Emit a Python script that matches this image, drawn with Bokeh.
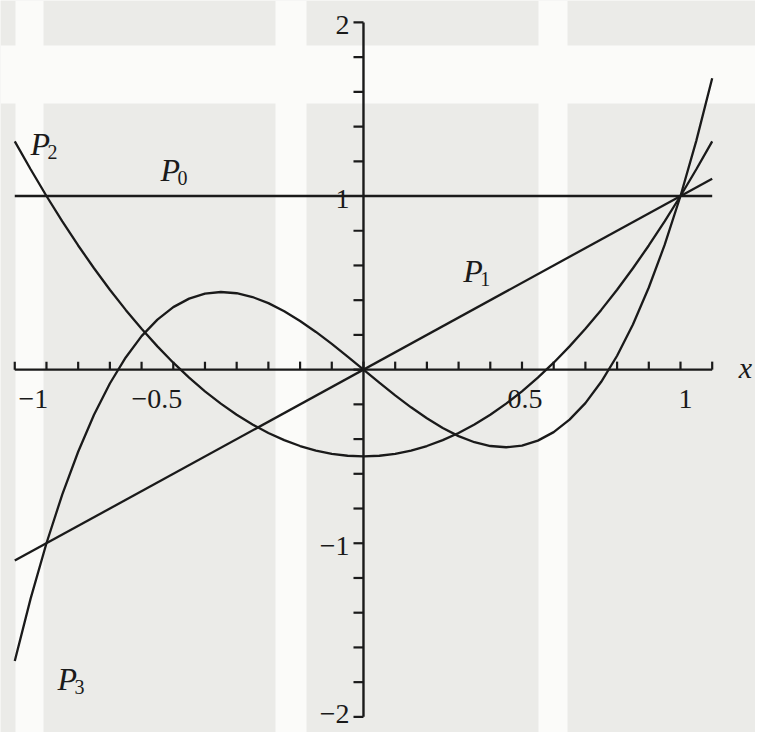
import numpy as np
from bokeh.plotting import figure
from bokeh.models import Range1d, BoxAnnotation, ColumnDataSource
from bokeh.core.properties import value
from bokeh.embed import file_html
from bokeh.resources import INLINE

# ---------------- data ----------------
x_curve = [round(-1.1 + 0.05 * i, 2) for i in range(45)]

p0_x = [-1.1, 1.1]
p0_y = [1.0, 1.0]

p1_x = [-1.1, 1.1]
p1_y = [-1.1, 1.1]

p2_y = [1.315, 1.154, 1.000, 0.854, 0.715, 0.584, 0.460, 0.344, 0.235, 0.134,
        0.040, -0.046, -0.125, -0.196, -0.260, -0.316, -0.365, -0.406, -0.440,
        -0.466, -0.485, -0.496, -0.500,
        -0.496, -0.485, -0.466, -0.440, -0.406, -0.365, -0.316, -0.260, -0.196,
        -0.125, -0.046, 0.040, 0.134, 0.235, 0.344, 0.460, 0.584, 0.715, 0.854,
        1.000, 1.154, 1.315]

p3_y = [-1.678, -1.319, -1.000, -0.718, -0.473, -0.260, -0.080, 0.070, 0.193,
        0.288, 0.360, 0.409, 0.438, 0.447, 0.440, 0.418, 0.383, 0.336, 0.280,
        0.217, 0.148, 0.075, 0.000,
        -0.075, -0.148, -0.217, -0.280, -0.336, -0.383, -0.418, -0.440, -0.447,
        -0.438, -0.409, -0.360, -0.288, -0.193, -0.070, 0.080, 0.260, 0.473,
        0.718, 1.000, 1.319, 1.678]

x_ticks = [-1.1, -1.0, -0.9, -0.8, -0.7, -0.6, -0.5, -0.4, -0.3, -0.2, -0.1, 0.0,
           0.1, 0.2, 0.3, 0.4, 0.5, 0.6, 0.7, 0.8, 0.9, 1.0, 1.1]
y_ticks = [-2.0, -1.8, -1.6, -1.4, -1.2, -1.0, -0.8, -0.6, -0.4, -0.2, 0.0,
           0.2, 0.4, 0.6, 0.8, 1.0, 1.2, 1.4, 1.6, 1.8, 2.0]

x_label_vals = [-1.0, -0.5, 0.5, 1.0]
x_label_text = ["\u22121", "\u22120.5", "0.5", "1"]
y_label_vals = [2.0, 1.0, -1.0, -2.0]
y_label_text = ["2", "1", "\u22121", "\u22122"]

curve_sub = ["0", "1", "2", "3"]
curve_label_x = [-0.64, 0.315, -1.05, -0.965]
curve_label_y = [1.15, 0.57, 1.30, -1.78]

# ---------------- styling ----------------
INK = "#1a1a1a"
PAPER = "#ebebe8"
STRIP = "#fbfbf9"
SERIF = "Liberation Serif"
H = 732

p = figure(width=755, height=H, output_backend="svg", toolbar_location=None,
           x_range=Range1d(-1.145, 1.2366), y_range=Range1d(-2.09, 2.126),
           min_border=0, x_axis_type=None, y_axis_type=None)
p.grid.visible = False
p.outline_line_color = None
p.background_fill_color = PAPER
p.border_fill_color = PAPER

# light strips of the scanned page (screen pixels)
for l, r in [(15, 43), (275, 306), (538, 567)]:
    p.add_layout(BoxAnnotation(left=l, right=r, left_units="screen", right_units="screen",
                               fill_color=STRIP, fill_alpha=1, line_color=None, level="underlay"))
p.add_layout(BoxAnnotation(top=H - 45, bottom=H - 103, top_units="screen", bottom_units="screen",
                           fill_color=STRIP, fill_alpha=1, line_color=None, level="underlay"))

# axes
p.segment(x0=[min(x_ticks)], y0=[0], x1=[max(x_ticks)], y1=[0], line_color=INK, line_width=2.4)
p.segment(x0=[0], y0=[min(y_ticks)], x1=[0], y1=[max(y_ticks)], line_color=INK, line_width=2.4)
p.ray(x=x_ticks, y=[0] * len(x_ticks), length=8, length_units="screen",
      angle=np.pi / 2, line_color=INK, line_width=2.2)
p.ray(x=[0] * len(y_ticks), y=y_ticks, length=10, length_units="screen",
      angle=np.pi, line_color=INK, line_width=2.2)

# tick labels
xs = ColumnDataSource(dict(x=x_label_vals, y=[0] * 4, t=x_label_text, dx=[-13, -48, 3, 5]))
p.text(x="x", y="y", text="t", source=xs, x_offset="dx", y_offset=29,
       text_font=value(SERIF), text_font_size="28px", text_color=INK,
       text_align="center", text_baseline="middle")
ys = ColumnDataSource(dict(x=[0] * 4, y=y_label_vals, t=y_label_text, dy=[3, 3, 3, -3]))
p.text(x="x", y="y", text="t", source=ys, x_offset=-14, y_offset="dy",
       text_font=value(SERIF), text_font_size="28px", text_color=INK,
       text_align="right", text_baseline="middle")
p.text(x=[1.205], y=[0], text=["x"], y_offset=-2,
       text_font=value(SERIF), text_font_size="30px", text_font_style="italic",
       text_color=INK, text_align="center", text_baseline="middle")

# curves
p.line(p0_x, p0_y, line_color=INK, line_width=2.3)
p.line(p1_x, p1_y, line_color=INK, line_width=2.3)
p.line(x_curve, p2_y, line_color=INK, line_width=2.3)
p.line(x_curve, p3_y, line_color=INK, line_width=2.3)

# curve labels P_n
ls = ColumnDataSource(dict(x=curve_label_x, y=curve_label_y,
                           P=["P"] * 4, s=curve_sub))
p.text(x="x", y="y", text="P", source=ls,
       text_font=value(SERIF), text_font_size="32px", text_font_style="italic",
       text_color=INK, text_align="left", text_baseline="middle")
p.text(x="x", y="y", text="s", source=ls, x_offset=17, y_offset=8,
       text_font=value(SERIF), text_font_size="20px",
       text_color=INK, text_align="left", text_baseline="middle")

open("out.html", "w").write(file_html(p, INLINE))
